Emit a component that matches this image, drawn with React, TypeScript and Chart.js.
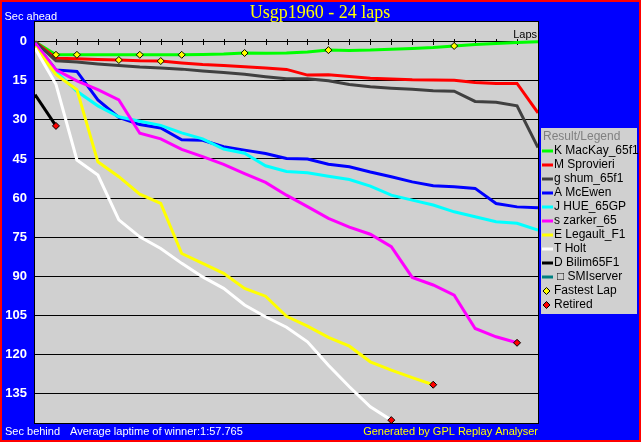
import React, { useEffect, useRef } from "react";
import { Chart, registerables } from "chart.js";

Chart.register(...registerables);

// ---------- data ----------
const laps = [0, 1, 2, 3, 4, 5, 6, 7, 8, 9, 10, 11, 12, 13, 14, 15, 16, 17, 18, 19, 20, 21, 22, 23, 24];
const tickLaps = [1, 2, 3, 4, 5, 6, 7, 8, 9, 10, 11, 12, 13, 14, 15, 16, 17, 18, 19, 20, 21, 22, 23];
const yTicks = [0, 15, 30, 45, 60, 75, 90, 105, 120, 135];

const drivers = [
  "K MacKay_65f1",
  "M Sprovieri",
  "g shum_65f1",
  "A McEwen",
  "J HUE_65GP",
  "s zarker_65",
  "E Legault_F1",
  "T Holt",
  "D Bilim65F1",
  "SMIserver",
];
const colors = ["#00ff00", "#ff0000", "#404040", "#0000ff", "#00ffff", "#ff00ff", "#ffff00", "#ffffff", "#000000", "#008080"];

const mackay = [0, 5.0, 5.0, 5.0, 5.0, 5.0, 5.0, 5.0, 4.9, 4.7, 4.3, 4.4, 4.3, 3.9, 3.2, 3.3, 3.2, 2.9, 2.6, 2.2, 1.6, 1.0, 0.7, 0.3, 0];
const sprovieri = [0, 6.3, 6.5, 6.8, 7.0, 7.3, 7.4, 8.1, 8.7, 9.1, 9.6, 10.1, 10.6, 12.8, 12.7, 13.3, 14.0, 14.3, 14.6, 14.7, 14.8, 15.6, 16.0, 16.0, 27.3];
const shum = [0, 7.3, 7.8, 8.5, 9.1, 9.7, 10.1, 10.5, 11.2, 11.8, 12.5, 13.4, 14.2, 14.2, 15.0, 16.4, 17.3, 17.8, 18.2, 18.8, 19.0, 22.9, 23.2, 24.6, 40.6];
const mcewen = [0.5, 10.8, 11.4, 22.3, 29.0, 31.8, 33.1, 37.6, 37.8, 40.3, 41.6, 42.9, 44.8, 45.0, 47.0, 48.0, 50.0, 51.8, 53.8, 55.3, 55.7, 56.3, 62.1, 63.4, 63.7];
const hue = [0.5, 11.4, 19.0, 24.6, 28.8, 30.5, 32.1, 35.0, 37.3, 41.2, 42.8, 47.6, 49.8, 50.3, 51.6, 52.9, 55.4, 58.9, 60.8, 62.7, 65.3, 67.2, 69.1, 69.7, 72.3];
const zarker = [0.5, 10.8, 15.0, 18.4, 22.3, 35.1, 37.3, 41.3, 44.1, 47.1, 50.6, 54.0, 58.9, 63.3, 67.8, 71.2, 73.9, 78.7, 90.5, 93.4, 97.3, 110.1, 113.3, 115.6];
const legault = [2.0, 12.5, 18.4, 46.1, 51.8, 58.5, 62.1, 81.3, 85.1, 88.9, 94.7, 97.7, 105.4, 109.2, 113.5, 116.9, 122.9, 126.1, 129.0, 131.7];
const holt = [2.5, 16.3, 45.4, 51.2, 68.4, 74.9, 79.4, 85.1, 90.3, 94.7, 101.1, 105.6, 109.6, 115.2, 124.2, 132.5, 140.2, 145.3];
const bilim = [20.3, 32.3];
const smiserver: number[] = [];

const series = [mackay, sprovieri, shum, mcewen, hue, zarker, legault, holt, bilim, smiserver];

const retiredDrivers = [5, 6, 7, 8];
const fastestLapDriver = [0, 0, 1, 0, 1, 0, 0, 0, 0];
const fastestLapLap = [1, 2, 4, 5, 6, 7, 10, 14, 20];

const title = "Usgp1960 - 24 laps";
const footerLeft = "Sec behind";
const footerMid = "Average laptime of winner:1:57.765";
const footerRight = "Generated by GPL Replay Analyser";
const topLeft = "Sec ahead";
const lapsLabel = "Laps";
const legendTitle = "Result/Legend";
const fastestLabel = "Fastest Lap";
const retiredLabel = "Retired";

// ---------- helpers ----------
function diamond(ctx: CanvasRenderingContext2D, x: number, y: number, r: number, fill: string) {
  ctx.beginPath();
  ctx.moveTo(x, y - r);
  ctx.lineTo(x + r, y);
  ctx.lineTo(x, y + r);
  ctx.lineTo(x - r, y);
  ctx.closePath();
  ctx.fillStyle = fill;
  ctx.fill();
  ctx.lineWidth = 1;
  ctx.strokeStyle = "#000";
  ctx.stroke();
}

const chrome = {
  id: "chrome",
  beforeDraw(chart: any) {
    const { ctx, chartArea: a } = chart;
    ctx.save();
    ctx.fillStyle = "#d0d0d0";
    ctx.fillRect(a.left, a.top, a.right - a.left, a.bottom - a.top);
    ctx.restore();
  },
  beforeDatasetsDraw(chart: any) {
    const { ctx } = chart;
    const xs = chart.scales.x;
    const ys = chart.scales.y;
    const y0 = Math.round(ys.getPixelForValue(0));
    ctx.save();
    ctx.strokeStyle = "#000";
    ctx.lineWidth = 1;
    ctx.beginPath();
    tickLaps.forEach((l) => {
      const px = Math.round(xs.getPixelForValue(l)) + 0.5;
      ctx.moveTo(px, y0 - 3);
      ctx.lineTo(px, y0 + 3);
    });
    ctx.stroke();
    ctx.restore();
  },
  afterDraw(chart: any) {
    const { ctx, chartArea: a } = chart;
    ctx.save();
    // plot frame
    ctx.strokeStyle = "#000";
    ctx.lineWidth = 1;
    ctx.strokeRect(a.left - 0.5, a.top - 0.5, a.right - a.left + 1, a.bottom - a.top + 1);

    // title
    ctx.textBaseline = "alphabetic";
    ctx.fillStyle = "#ffff00";
    ctx.font = "18px 'Liberation Serif'";
    ctx.textAlign = "center";
    ctx.fillText(title, 320, 17.5);

    ctx.font = "11px 'Liberation Sans'";
    ctx.textAlign = "left";
    ctx.fillStyle = "#ffffff";
    ctx.fillText(topLeft, 4.5, 20);
    ctx.fillText(footerLeft, 5, 435);
    ctx.fillText(footerMid, 70, 435);
    ctx.fillStyle = "#ffff00";
    ctx.textAlign = "right";
    ctx.fillText(footerRight, 538, 435);

    ctx.fillStyle = "#000";
    ctx.fillText(lapsLabel, 537, 38);

    // legend
    const lx = 541;
    ctx.fillStyle = "#d0d0d0";
    ctx.fillRect(lx, 128, 96, 186);
    ctx.font = "12px 'Liberation Sans'";
    ctx.textAlign = "left";
    ctx.textBaseline = "middle";
    ctx.fillStyle = "#808080";
    ctx.fillText(legendTitle, 543, 137);
    const rowY = (i: number) => 151 + 14 * i;
    drivers.forEach((name, i) => {
      const y = rowY(i);
      ctx.strokeStyle = colors[i];
      ctx.lineWidth = 3;
      ctx.beginPath();
      ctx.moveTo(542, y);
      ctx.lineTo(553, y);
      ctx.stroke();
      ctx.fillStyle = "#000";
      if (name === "SMIserver") {
        ctx.fillText("\u25A1 " + name, 557, y);
      } else {
        ctx.fillText(name, 554, y);
      }
    });
    const fy = rowY(drivers.length);
    diamond(ctx, 546.5, fy, 3.5, "#ffff00");
    ctx.fillStyle = "#000";
    ctx.fillText(fastestLabel, 554, fy);
    const ry = rowY(drivers.length + 1);
    diamond(ctx, 546.5, ry, 3.5, "#ff0000");
    ctx.fillStyle = "#000";
    ctx.fillText(retiredLabel, 554, ry);
    ctx.restore();
  },
};

export default function App() {
  const ref = useRef<HTMLCanvasElement | null>(null);

  useEffect(() => {
    if (!ref.current) return;
    const lineSets: any[] = series.map((vals, i) => ({
      label: drivers[i],
      data: vals.map((v, j) => ({ x: laps[j], y: v })),
      borderColor: colors[i],
      backgroundColor: colors[i],
      borderWidth: 3,
      pointRadius: 0,
      tension: 0,
      fill: false,
      order: 100 - i,
    }));
    const fastest = {
      label: fastestLabel,
      data: fastestLapLap.map((l, k) => ({ x: l, y: series[fastestLapDriver[k]][l] })),
      showLine: false,
      pointStyle: "rectRot",
      pointRadius: 3.5,
      pointBackgroundColor: "#ffff00",
      pointBorderColor: "#000",
      pointBorderWidth: 1,
      order: 1,
    };
    const retired = {
      label: retiredLabel,
      data: retiredDrivers.map((d) => {
        const s = series[d];
        return { x: laps[s.length - 1], y: s[s.length - 1] };
      }),
      showLine: false,
      pointStyle: "rectRot",
      pointRadius: 3.5,
      pointBackgroundColor: "#ff0000",
      pointBorderColor: "#000",
      pointBorderWidth: 1,
      order: 0,
    };

    const chart = new Chart(ref.current, {
      type: "line",
      data: { datasets: [...lineSets, fastest, retired] },
      options: {
        animation: false,
        responsive: false,
        devicePixelRatio: 1,
        events: [],
        layout: { padding: { left: 0, top: 22, right: 103, bottom: 19 } },
        plugins: {
          legend: { display: false },
          title: { display: false },
          tooltip: { enabled: false },
        },
        scales: {
          x: { type: "linear", min: 0, max: 24, display: false },
          y: {
            type: "linear",
            reverse: true,
            min: -7.6,
            max: 146.4,
            afterFit: (s: any) => {
              s.width = 35;
            },
            afterBuildTicks: (s: any) => {
              s.ticks = yTicks.map((v) => ({ value: v }));
            },
            ticks: {
              color: "#ffffff",
              font: { family: "'Liberation Sans'", size: 13, weight: "bold" },
              padding: 8,
            },
            grid: { color: "#000000", lineWidth: 1, drawTicks: false },
            border: { display: false },
          },
        },
      } as any,
      plugins: [chrome as any],
    });
    return () => chart.destroy();
  }, []);

  return (
    <div
      style={{
        position: "fixed",
        left: 0,
        top: 0,
        width: 641,
        height: 442,
        background: "#0000ff",
        boxShadow: "inset 0 0 0 2px #ff0000",
      }}
    >
      <canvas ref={ref} width={641} height={442} style={{ position: "absolute", left: 0, top: 0, width: 641, height: 442 }} />
    </div>
  );
}
